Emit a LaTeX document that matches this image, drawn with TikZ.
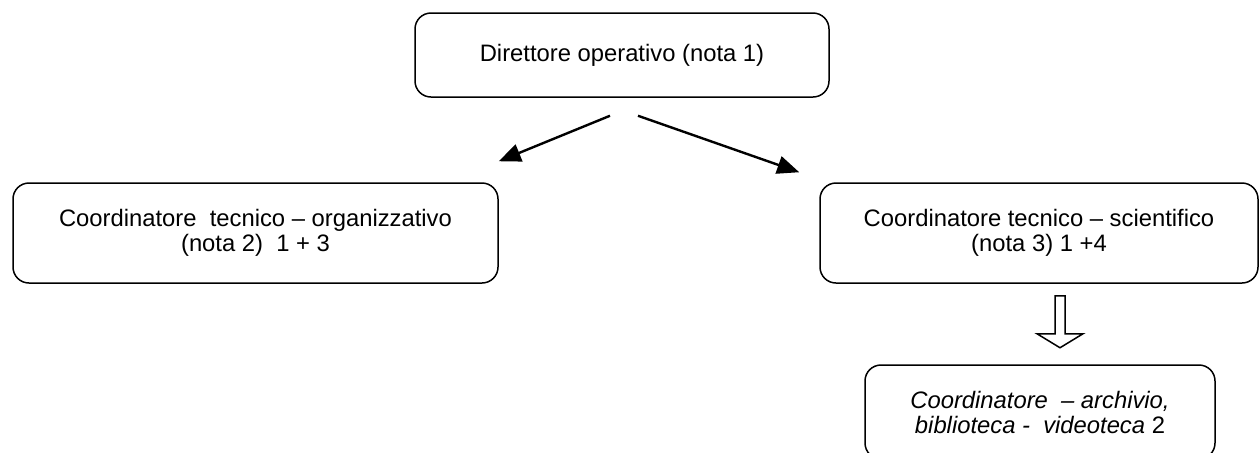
\documentclass[tikz,border=0pt]{standalone}
\usepackage{fontspec}
\setmainfont{Liberation Sans}
\usetikzlibrary{arrows.meta,calc}

\tikzset{
	casella/.style={draw, line width=0.75pt, rounded corners=8pt, align=center,
		font=\fontsize{11.9}{12.5}\selectfont},
	freccia/.style={line width=1.2pt, -{Triangle[length=11pt,width=9pt]}}
}

\begin{document}
\begin{tikzpicture}[x=0.5pt,y=-0.5pt]
			\useasboundingbox (0,0) rectangle (1259,452);

			\node[casella, minimum width=207pt, minimum height=42pt] (dir) at (622,55) {Direttore operativo (nota 1)};
			\node[casella, minimum width=242.5pt, minimum height=50pt] (tecorg) at (255.5,233)
				{Coordinatore\ \ tecnico -- organizzativo\\(nota 2)\ \ 1 + 3};
			\node[casella, minimum width=219pt, minimum height=50pt] (tecsci) at (1039,233)
				{Coordinatore tecnico -- scientifico\\(nota 3) 1 +4};
			\node[casella, minimum width=175pt, minimum height=47pt] (arch) at (1040,412)
				{\textit{Coordinatore\ \ -- archivio,}\\\textit{biblioteca -\ \ videoteca} 2};

			% frecce dal direttore
			\coordinate (sx) at ($(dir.south)+(-12,18)$);
			\coordinate (dx) at ($(dir.south)+(16,18)$);
			\draw[freccia] (sx) -- ($(tecorg.north east)+(0,-21)$);
			\draw[freccia] (dx) -- ($(tecsci.north west)+(-20,-10)$);

			% freccia vuota
			\coordinate (fv) at ($(tecsci.south)+(21,12)$);
			\draw[line width=0.75pt] ($(fv)+(-5,0)$) -- ($(fv)+(5,0)$) -- ($(fv)+(5,38)$) -- ($(fv)+(23,38)$)
				-- ($(fv)+(0,52)$) -- ($(fv)+(-23,38)$) -- ($(fv)+(-5,38)$) -- cycle;
\end{tikzpicture}
\end{document}
